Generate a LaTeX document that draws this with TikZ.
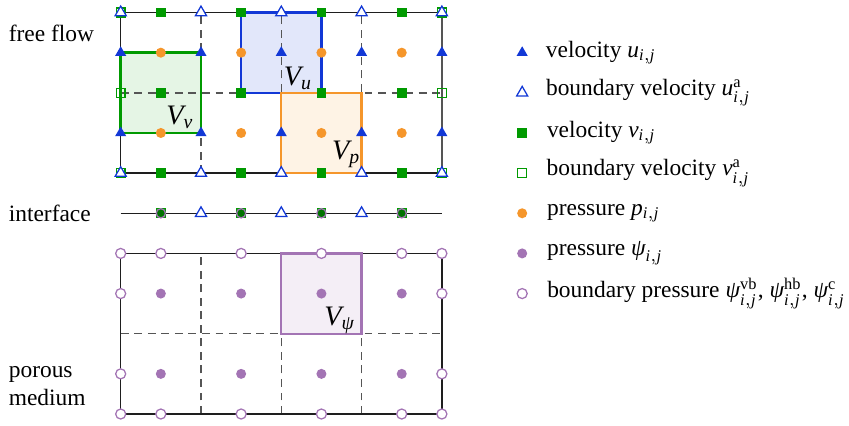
\documentclass[tikz,border=0pt]{standalone}
\usepackage{amsmath}
\usepackage{fontspec}
\setmainfont{Liberation Serif}
\usetikzlibrary{positioning,shapes.geometric}
\definecolor{ublue}{HTML}{1238D6}
\definecolor{vgreen}{HTML}{009A00}
\definecolor{porange}{HTML}{F5962B}
\definecolor{ppurple}{HTML}{A374B4}
\definecolor{ink}{HTML}{1E1E1E}
\definecolor{gridgray}{HTML}{555555}
\newcommand{\idx}{\mathit{i},\mathit{j}}
\newcommand{\psiit}{\text{\itshape ψ}}
\tikzset{
  every node/.style={font=\fontsize{8.3}{10}\selectfont,text=black},
  umark/.style={regular polygon,regular polygon sides=3,fill=ublue,inner sep=0pt,minimum size=1.6mm},
  ubmark/.style={umark,fill=white,draw=ublue,line width=0.45pt},
  vmark/.style={rectangle,fill=vgreen,inner sep=0pt,minimum size=1.2mm},
  vbmark/.style={vmark,fill=none,draw=vgreen,line width=0.45pt,minimum size=1.1mm},
  pmark/.style={circle,fill=porange,inner sep=0pt,minimum size=1.25mm},
  psimark/.style={pmark,fill=ppurple},
  psibmark/.style={pmark,fill=white,draw=ppurple,line width=0.45pt},
  imark/.style={circle,fill=green!45!black,draw=ppurple,line width=0.45pt,inner sep=0pt,minimum size=1.15mm},
  gridline/.style={draw=ink,line width=0.5pt},
  dashline/.style={draw=gridgray,line width=0.5pt,dash pattern=on 2.8pt off 2pt},
  cvline/.style={line width=0.85pt},
  cvlabel/.style={font=\fontsize{10}{12}\selectfont},
  legtext/.style={right=2mm of #1,inner sep=1pt},
}
\begin{document}
\begin{tikzpicture}
\useasboundingbox (-1.503,-0.137) rectangle (9.07,5.156);

% control volumes
\fill[vgreen!10] (0,3.5) rectangle (1,4.5);
\fill[ublue!12] (1.5,4) rectangle (2.5,5);
\fill[porange!12] (2,3) rectangle (3,4);
\fill[ppurple!12] (2,1) rectangle (3,2);

% free flow grid
\draw[dashline] (1,3) -- (1,5) (2,3) -- (2,5) (3,3) -- (3,5) (0,4) -- (4,4);
\draw[gridline] (4,3) -- (0,3) -- (0,5) -- (4,5);
\draw[gridline,draw=gridgray] (4,3) -- (4,5);

% interface
\draw[gridline] (0,2.5) -- (4,2.5);

% porous medium grid
\draw[dashline] (1,0) -- (1,2) (2,0) -- (2,2) (3,0) -- (3,2) (0,1) -- (4,1);
\draw[gridline] (0,0) rectangle (4,2);

\draw[cvline,draw=vgreen] (0,3.5) rectangle (1,4.5);
\draw[cvline,draw=ublue] (1.5,4) rectangle (2.5,5);
\draw[cvline,draw=porange] (2,3) rectangle (3,4);
\draw[cvline,draw=ppurple] (2,1) rectangle (3,2);
\node[cvlabel] (Vv) at (0.74,3.69) {$\mathit{V}_{\mathit{v}}$};
\node[cvlabel] (Vu) at (2.21,4.18) {$\mathit{V}_{\mathit{u}}$};
\node[cvlabel] (Vp) at (2.81,3.23) {$\mathit{V}_{\mathit{p}}$};
\node[cvlabel] (Vpsi) at (2.73,1.17) {$\mathit{V}_{\psiit}$};

% free flow unknowns
\foreach \y [count=\j] in {3,4,5} {
  \node[vbmark] (vb0\j) at (0,\y) {};
  \node[vbmark] (vb4\j) at (4,\y) {};
  \foreach \x [count=\i] in {0.5,1.5,2.5,3.5} \node[vmark] (v\i\j) at (\x,\y) {};
}
\foreach \i in {0,...,4} {
  \node[ubmark] (ub\i1) at (\i,3) {};
  \node[ubmark] (ub\i2) at (\i,5) {};
  \node[umark] (u\i1) at (\i,3.5) {};
  \node[umark] (u\i2) at (\i,4.5) {};
}
\foreach \x [count=\i] in {0.5,1.5,2.5,3.5} {
  \node[pmark] (p\i1) at (\x,3.5) {};
  \node[pmark] (p\i2) at (\x,4.5) {};
}

% interface unknowns
\foreach \x [count=\i] in {0.5,1.5,2.5,3.5} {
  \node[vmark] (vi\i) at (\x,2.5) {};
  \node[imark] (ci\i) at (\x,2.5) {};
}
\foreach \i in {1,2,3} \node[ubmark] (ui\i) at (\i,2.5) {};

% porous medium unknowns
\foreach \x [count=\i] in {0.5,1.5,2.5,3.5} {
  \node[psimark] (psi\i1) at (\x,0.5) {};
  \node[psimark] (psi\i2) at (\x,1.5) {};
  \node[psibmark] (hb\i0) at (\x,0) {};
  \node[psibmark] (hb\i2) at (\x,2) {};
}
\foreach \x in {0,4} {
  \node[psibmark] (vb\x1) at (\x,0.5) {};
  \node[psibmark] (vb\x2) at (\x,1.5) {};
  \node[psibmark] (c\x0) at (\x,0) {};
  \node[psibmark] (c\x2) at (\x,2) {};
}

% region labels
\node[anchor=west,inner sep=0pt] (ff) at (-1.40,4.74) {free flow};
\node[anchor=west,inner sep=0pt] (ifc) at (-1.40,2.5) {interface};
\node[anchor=west,inner sep=0pt,align=left] (pm) at (-1.40,0.35) {porous\\medium};

% legend
\node[umark] (lu) at (5,4.5) {};
\node[legtext=lu] (lut) {velocity $\mathit{u}_{\idx}$};
\node[ubmark] (lub) at (5,4) {};
\node[legtext=lub] (lubt) {boundary velocity $\mathit{u}^{\mathrm{a}}_{\idx}$};
\node[vmark] (lv) at (5,3.5) {};
\node[legtext=lv] (lvt) {velocity $\mathit{v}_{\idx}$};
\node[vbmark] (lvb) at (5,3) {};
\node[legtext=lvb] (lvbt) {boundary velocity $\mathit{v}^{\mathrm{a}}_{\idx}$};
\node[pmark] (lp) at (5,2.5) {};
\node[legtext=lp] (lpt) {pressure $\mathit{p}_{\idx}$};
\node[psimark] (lpsi) at (5,2) {};
\node[legtext=lpsi] (lpsit) {pressure $\psiit_{\idx}$};
\node[psibmark] (lpsib) at (5,1.5) {};
\node[legtext=lpsib] (lpsibt) {boundary pressure $\psiit^{\mathrm{vb}}_{\idx}$, $\psiit^{\mathrm{hb}}_{\idx}$, $\psiit^{\mathrm{c}}_{\idx}$};

\end{tikzpicture}
\end{document}
